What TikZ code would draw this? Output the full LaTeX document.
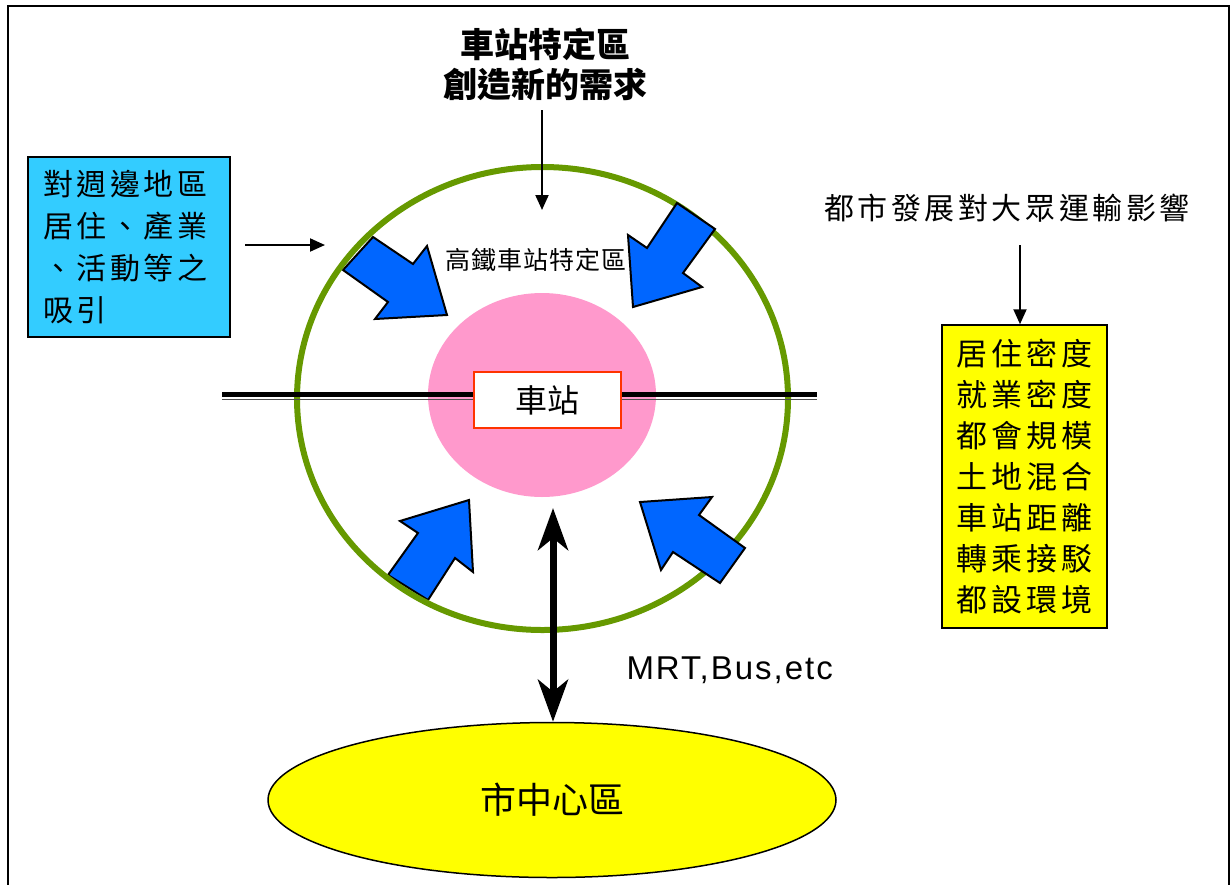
\documentclass[tikz,border=0pt]{standalone}
\usepackage{fontspec}
\setmainfont{Liberation Sans}
\newfontfamily\cjk{Noto Sans CJK TC}
\newfontfamily\cjksp{Noto Sans CJK TC}[LetterSpace=12]
\newfontfamily\cjkthin{Noto Sans CJK TC}[LetterSpace=4]
\newfontfamily\latinsp{Liberation Sans}[LetterSpace=6]
\usetikzlibrary{arrows.meta,shapes.geometric}
\definecolor{ringgreen}{HTML}{669900}
\definecolor{corepink}{HTML}{FF99CC}
\definecolor{flowblue}{HTML}{0066FF}
\definecolor{boxcyan}{HTML}{33CCFF}
\definecolor{boxyellow}{HTML}{FFFF00}
\definecolor{stationred}{HTML}{FF3300}
\tikzset{
  thinarrow/.style={line width=2pt,-{Triangle[length=15pt,width=13pt]}},
  bigflow/.style={draw=black,line width=2pt,fill=flowblue,line join=miter},
  textbox/.style={draw=black,line width=1.5pt,inner sep=0pt},
}
\begin{document}
\begin{tikzpicture}[x=1pt,y=-1pt]
\useasboundingbox (0,0) rectangle (1231,884);
\clip (0,0) rectangle (1231,884);
% frame
\draw[line width=2pt] (8,6) rectangle (1229,900);
% core
\node[ellipse,fill=corepink,minimum width=228pt,minimum height=204pt,inner sep=0pt] (core) at (542,395) {};
% blue arrows under ring
\draw[bigflow] (373,237) -- (413,264) -- (427,246) -- (447,315) -- (375,319) -- (388,302) -- (343,270) -- cycle;
\draw[bigflow] (388,575) -- (418,533) -- (400,521) -- (469,500) -- (473,572) -- (455,558) -- (428,600) -- cycle;
% ring
\node[ellipse,draw=ringgreen,line width=6pt,minimum width=491pt,minimum height=463pt,inner sep=0pt] (zone) at (542.5,398.5) {};
% blue arrows over ring
\draw[bigflow] (677,203) -- (715,229) -- (683,273) -- (702,287) -- (633,307) -- (628,235) -- (647,248) -- cycle;
\draw[bigflow] (640,502) -- (712,497) -- (699,515) -- (745,548) -- (720,583) -- (673,552) -- (661,570) -- cycle;
% rail
\coordinate (railw) at (222,395);
\coordinate (raile) at (817,395);
\draw[line width=5pt] ([yshift=1pt]railw) -- ([yshift=1pt]raile);
\draw[line width=1pt,black!70] ([yshift=-4pt]railw) -- ([yshift=-4pt]raile);
% station
\node[draw=stationred,line width=1.5pt,fill=white,minimum width=147pt,minimum height=56pt,inner sep=0pt,font=\cjk\fontsize{32}{36}\selectfont] (station) at (547.5,400) {車站};
\node[font=\cjkthin\fontsize{25}{28}\selectfont] (zonelabel) at (536,260) {高鐵車站特定區};
% top text
\node[font=\cjk\bfseries\fontsize{34}{40}\selectfont,align=center] (demand) at (545,64) {車站特定區\\創造新的需求};
\coordinate (dtip) at (542,210);
\draw[thinarrow] (542,110) -- (dtip);
% left box
\node[textbox,fill=boxcyan,minimum width=202pt,minimum height=180pt,text width=172pt,align=left,font=\cjksp\fontsize{30}{42}\selectfont] (attract) at (129,247) {對週邊地區\\居住、產業\\、活動等之\\吸引};
\coordinate (atip) at (325,245);
\draw[thinarrow] (245,245) -- (atip);
% right
\node[font=\cjksp\fontsize{30}{36}\selectfont] (impact) at (1007,208) {都市發展對大眾運輸影響};
\node[textbox,fill=boxyellow,minimum width=165pt,minimum height=303pt,align=center,font=\cjksp\fontsize{31}{41}\selectfont] (factors) at (1024.5,476.5) {居住密度\\就業密度\\都會規模\\土地混合\\車站距離\\轉乘接駁\\都設環境};
\coordinate (istart) at (1020,245);
\draw[thinarrow] (istart) -- (istart |- factors.north);
% city
\node[ellipse,draw=black,line width=1.5pt,fill=boxyellow,minimum width=568pt,minimum height=155pt,inner sep=0pt,font=\cjk\fontsize{36}{40}\selectfont] (city) at (552,800) {市中心區};
\coordinate (link) at (553,508);
\draw[line width=7pt,{Stealth[length=42pt,width=30pt,inset=12pt]}-{Stealth[length=42pt,width=30pt,inset=12pt]}] (link) -- (link |- city.north);
\node[font=\latinsp\fontsize{33}{36}\selectfont,anchor=west] (modes) at (623,670) {MRT,Bus,etc};
\end{tikzpicture}
\end{document}
